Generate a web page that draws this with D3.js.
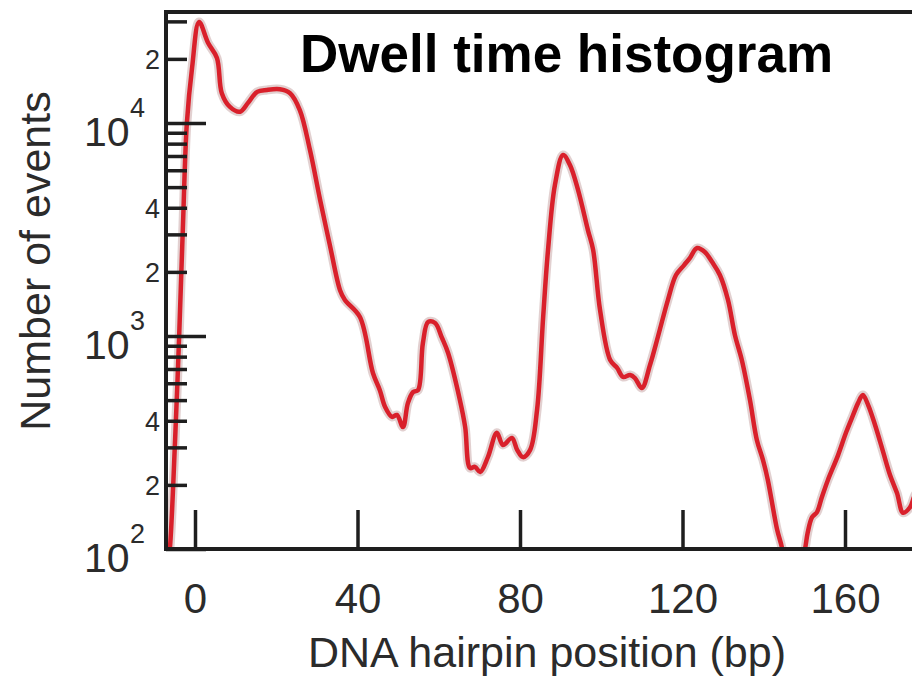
<!DOCTYPE html>
<html>
<head>
<meta charset="utf-8">
<script src="https://cdn.jsdelivr.net/npm/d3@7"></script>
<style>
  html, body { margin: 0; padding: 0; background: #fff; overflow: hidden; }
  svg { display: block; font-family: "Liberation Sans", Arial, Helvetica, sans-serif; }
</style>
</head>
<body>
<svg id="chart" width="912" height="679"></svg>
<script>
// Dwell-time histogram along the DNA hairpin (position in bp, number of events)
const positionBp = [
  -6.6, -6.2, -4.9, -3.9, -3.0, -2.0, -0.7, 1.0, 3.2, 5.4,
  6.6, 8.6, 11.1, 13.0, 15.3, 17.7, 20.9, 23.4, 25.8, 28.3,
  30.8, 33.2, 35.7, 36.9, 40.6, 43.8, 45.5, 46.8, 48.5, 49.7,
  51.2, 52.4, 53.7, 54.9, 56.1, 57.4, 59.1, 60.8, 62.3, 65.2,
  66.5, 67.7, 68.9, 70.2, 72.1, 74.3, 75.8, 78.0, 79.3, 80.7,
  82.5, 84.2, 85.7, 86.9, 88.6, 90.6, 92.3, 94.3, 96.7, 98.0,
  99.7, 102.2, 103.9, 105.4, 107.1, 108.3, 110.0, 112.0, 114.0, 116.4,
  118.4, 120.4, 121.8, 123.6, 125.5, 127.3, 129.2, 131.2, 132.9, 134.6,
  136.6, 138.3, 139.8, 141.0, 143.3, 144.5, 145.2, 147.0, 148.9, 150.2,
  150.8, 151.9, 153.1, 154.3, 155.8, 158.3, 160.3, 162.0, 163.2, 164.4,
  165.7, 167.4, 169.4, 171.1, 172.8, 174.3, 176.0, 177.2, 179.0
];
const eventCounts = [
  89, 100, 325, 1000, 3150, 10000, 18300, 29800, 23800, 20200,
  13800, 11900, 11300, 12400, 14000, 14300, 14400, 13800, 11500, 7460,
  4350, 2670, 1640, 1475, 1227, 670, 557, 464, 417, 426,
  374, 484, 546, 557, 927, 1164, 1151, 979, 832, 501,
  374, 240, 243, 230, 270, 351, 308, 332, 292, 270,
  292, 450, 1227, 2535, 5120, 7080, 6350, 4840, 3150, 2535,
  1325, 771, 708, 642, 656, 635, 570, 731, 1000, 1475,
  1933, 2153, 2323, 2588, 2478, 2223, 1933, 1475, 1011, 771,
  501, 325, 262, 211, 123, 101, 79, 58, 79, 101,
  119, 141, 149, 175, 211, 276, 354, 426, 484, 528,
  474, 382, 285, 222, 183, 148, 157, 179, 200
];

const xTickValues = [0, 40, 80, 120, 160];
const yMajorTicks = [100, 1000, 10000];
const yMinorTicks = [200, 300, 400, 500, 600, 700, 800, 900,
                     2000, 3000, 4000, 5000, 6000, 7000, 8000, 9000,
                     20000, 30000];
const yMinorLabelled = [200, 400, 2000, 4000, 20000];
const titleText = "Dwell time histogram";
const xLabelText = "DNA hairpin position (bp)";
const yLabelText = "Number of events";

const svg = d3.select("#chart");
const plotLeft = 166, plotTop = 12, plotBottom = 549, plotRight = 940;

const x = d3.scaleLinear()
  .domain([(plotLeft - 195) / 4.0625, (plotRight - 195) / 4.0625])
  .range([plotLeft, plotRight]);
const y = d3.scaleLog()
  .domain([100, Math.pow(10, 2 + (plotBottom - plotTop) / 213)])
  .range([plotBottom, plotTop]);

const axisColor = "#1e1e1e";
const textColor = "#2b2b2b";

svg.append("defs").append("clipPath").attr("id", "plotClip")
  .append("rect").attr("x", plotLeft).attr("y", plotTop)
  .attr("width", plotRight - plotLeft).attr("height", plotBottom - plotTop);

// data line: pale halo underneath, red stroke on top
const pts = positionBp.map((p, i) => [p, eventCounts[i]]);
const line = d3.line()
  .x(d => x(d[0]))
  .y(d => y(d[1]))
  .curve(d3.curveCatmullRom.alpha(0.5));

const plot = svg.append("g").attr("clip-path", "url(#plotClip)");
plot.append("path").datum(pts)
  .attr("d", line).attr("fill", "none")
  .attr("stroke", "rgba(190,150,150,0.45)").attr("stroke-width", 9)
  .attr("stroke-linejoin", "round");
plot.append("path").datum(pts)
  .attr("d", line).attr("fill", "none")
  .attr("stroke", "#d9202b").attr("stroke-width", 4.5)
  .attr("stroke-linejoin", "round");

// frame: top border
svg.append("line")
  .attr("x1", plotLeft - 2).attr("x2", plotRight)
  .attr("y1", plotTop).attr("y2", plotTop)
  .attr("stroke", axisColor).attr("stroke-width", 4);

// y axis: inward major and minor ticks
const yAxisMajor = d3.axisLeft(y).tickValues(yMajorTicks).tickSize(-40).tickFormat("");
const yAxisMinor = d3.axisLeft(y).tickValues(yMinorTicks).tickSize(-21).tickFormat("");
const gyMaj = svg.append("g").attr("transform", `translate(${plotLeft},0)`).call(yAxisMajor);
const gyMin = svg.append("g").attr("transform", `translate(${plotLeft},0)`).call(yAxisMinor);
[gyMaj, gyMin].forEach(g => {
  g.select(".domain").remove();
  g.selectAll(".tick line").attr("stroke", axisColor).attr("stroke-width", 3.5);
});
svg.append("line")
  .attr("x1", plotLeft).attr("x2", plotLeft)
  .attr("y1", plotTop - 2).attr("y2", plotBottom + 2)
  .attr("stroke", axisColor).attr("stroke-width", 4);

// decade labels 10^n
const decLabels = svg.append("g");
yMajorTicks.forEach(v => {
  const yy = y(v);
  const exp = Math.round(Math.log10(v));
  const t = decLabels.append("text").attr("fill", textColor);
  t.append("tspan").attr("x", 84).attr("y", yy + 23)
    .attr("font-size", 41).text("10");
  t.append("tspan").attr("x", 130).attr("y", yy - 6)
    .attr("font-size", 27).text(String(exp));
});
// mantissa labels (2, 4)
yMinorLabelled.forEach(v => {
  const m = Math.round(v / Math.pow(10, Math.floor(Math.log10(v))));
  svg.append("text")
    .attr("x", 160).attr("y", y(v) + 10)
    .attr("text-anchor", "end")
    .attr("font-size", 27).attr("fill", textColor)
    .text(String(m));
});

// x axis: inward ticks, labels below
const xAxis = d3.axisBottom(x).tickValues(xTickValues).tickSize(-39).tickPadding(34);
const gx = svg.append("g").attr("transform", `translate(0,${plotBottom})`).call(xAxis);
gx.select(".domain").remove();
gx.selectAll(".tick line").attr("stroke", axisColor).attr("stroke-width", 3.5);
gx.selectAll(".tick text")
  .attr("font-size", 42).attr("fill", textColor)
  .attr("font-family", "'Liberation Sans', Arial, Helvetica, sans-serif");
svg.append("line")
  .attr("x1", plotLeft - 2).attr("x2", plotRight)
  .attr("y1", plotBottom).attr("y2", plotBottom)
  .attr("stroke", axisColor).attr("stroke-width", 4);

// axis titles
svg.append("text")
  .attr("x", 547).attr("y", 667)
  .attr("text-anchor", "middle")
  .attr("font-size", 43).attr("fill", textColor)
  .text(xLabelText);
svg.append("text")
  .attr("transform", "translate(50,261) rotate(-90)")
  .attr("text-anchor", "middle")
  .attr("font-size", 43).attr("fill", textColor)
  .text(yLabelText);

// chart title
svg.append("text")
  .attr("x", 300).attr("y", 72)
  .attr("font-size", 53).attr("font-weight", "bold").attr("fill", "#000")
  .text(titleText);
</script>
</body>
</html>
